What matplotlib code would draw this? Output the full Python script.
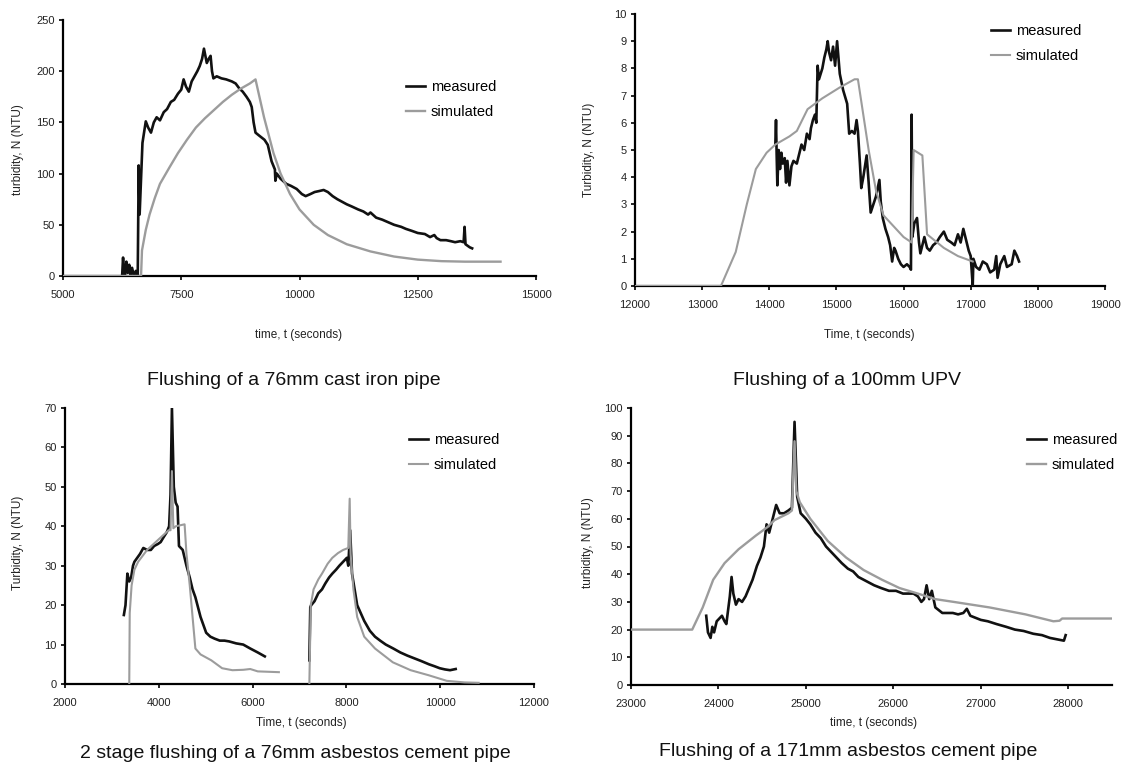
import matplotlib
matplotlib.use("Agg")
import matplotlib.pyplot as plt

plt.rcParams['font.family'] = ['Liberation Sans', 'DejaVu Sans']

# ---- panel 1: 76mm cast iron pipe ----
p1_meas_t = [6250, 6270, 6290, 6310, 6340, 6370, 6400, 6430, 6460, 6500, 6540, 6580, 6600, 6620,
             6680, 6750, 6800, 6860, 6920, 6980, 7050, 7130, 7200, 7280, 7350, 7430, 7500, 7550,
             7600, 7660, 7720, 7780, 7840, 7890, 7940, 7980, 8010, 8040, 8080, 8120, 8150, 8180,
             8250, 8350, 8450, 8570, 8650, 8730, 8800, 8880, 8950, 8990, 9030, 9070, 9150, 9260,
             9330, 9410, 9480, 9490, 9520, 9600, 9720, 9820, 9940, 10050, 10130, 10230, 10320, 10420,
             10510, 10600, 10700, 10800, 10920, 11000, 11100, 11240, 11350, 11450, 11500, 11620,
             11750, 11900, 12000, 12150, 12250, 12380, 12500, 12650, 12760, 12850, 12900, 12980,
             13100, 13200, 13290, 13400, 13470, 13490, 13510, 13540, 13600, 13650]
p1_meas_v = [0, 18, 2, 0, 14, 3, 11, 0, 8, 0, 5, 0, 108, 60,
             130, 151, 145, 140, 150, 155, 152, 160, 163, 170, 172, 178, 182, 192,
             185, 180, 190, 195, 200, 205, 212, 222, 215, 208, 212, 215, 200, 193,
             195, 193, 192, 190, 188, 183, 180, 175, 170, 165, 150, 140, 137, 133,
             128, 112, 104, 93, 100, 95, 90, 88, 85, 80, 78, 80, 82, 83,
             84, 82, 78, 75, 72, 70, 68, 65, 63, 60, 62, 57,
             55, 52, 50, 48, 46, 44, 42, 41, 38, 40, 37, 35,
             35, 34, 33, 34, 33, 48, 31, 30, 28, 27]
p1_sim_t = [5000, 6650, 6670, 6750, 6830, 6940, 7050, 7250, 7430, 7620, 7810, 8000, 8190, 8380,
            8570, 8760, 8950, 9070, 9250, 9450, 9600, 9800, 10000, 10300, 10600, 11000, 11500,
            12000, 12500, 13000, 13500, 14250]
p1_sim_v = [0, 0, 25, 45, 60, 76, 90, 106, 120, 133, 145, 154, 162, 170,
            177, 183, 188, 192, 155, 120, 100, 80, 65, 50, 40, 31, 24,
            19, 16, 14.5, 14, 14]

# ---- panel 2: 100mm UPV ----
p2_meas_t = [14090, 14100, 14110, 14120, 14140, 14160, 14180, 14200, 14230, 14250, 14270, 14300,
             14330, 14360, 14410, 14450, 14480, 14520, 14560, 14600, 14620, 14650, 14680, 14700,
             14720, 14740, 14790, 14820, 14850, 14870, 14890, 14920, 14950, 14980, 15010, 15030,
             15050, 15100, 15160, 15190, 15230, 15270, 15300, 15320, 15350, 15370, 15400, 15450,
             15480, 15510, 15550, 15590, 15640, 15660, 15690, 15730, 15770, 15800, 15830, 15860,
             15880, 15920, 15960, 16000, 16050, 16090, 16110, 16120, 16130, 16160, 16200, 16230,
             16250, 16280, 16310, 16350, 16390, 16440, 16490, 16540, 16600, 16650, 16710, 16760,
             16810, 16850, 16890, 16930, 16970, 17000, 17030, 17040, 17080, 17130, 17180, 17240,
             17290, 17350, 17380, 17400, 17440, 17500, 17540, 17610, 17650, 17690, 17720]
p2_meas_v = [5.2, 6.1, 4.8, 3.7, 5.0, 4.3, 4.9, 4.5, 4.7, 3.8, 4.6, 3.7,
             4.4, 4.6, 4.5, 4.9, 5.2, 5.0, 5.6, 5.4, 5.8, 6.1, 6.3, 6.0,
             8.1, 7.6, 8.0, 8.4, 8.7, 9.0, 8.6, 8.3, 8.8, 8.1, 9.0, 8.4,
             7.8, 7.2, 6.7, 5.6, 5.7, 5.6, 6.1, 5.7, 4.5, 3.6, 4.0, 4.8,
             3.8, 2.7, 3.0, 3.3, 3.9, 3.1, 2.5, 2.1, 1.8, 1.5, 0.9, 1.4,
             1.3, 1.0, 0.8, 0.7, 0.8, 0.7, 0.6, 6.3, 1.8, 2.3, 2.5, 1.6,
             1.2, 1.5, 1.8, 1.4, 1.3, 1.5, 1.6, 1.8, 2.0, 1.7, 1.6, 1.5,
             1.9, 1.6, 2.1, 1.7, 1.3, 1.1, 0.0, 1.0, 0.7, 0.6, 0.9, 0.8,
             0.5, 0.6, 1.1, 0.3, 0.8, 1.1, 0.7, 0.8, 1.3, 1.1, 0.9]
p2_sim_t = [12000, 13280, 13500, 13665, 13800, 13960, 14090, 14300, 14410, 14570, 14790, 15050,
            15270, 15320, 15480, 15590, 15700, 15850, 16000, 16120, 16150, 16280, 16350, 16600,
            16810, 17030]
p2_sim_v = [0, 0, 1.25, 3.0, 4.3, 4.9, 5.2, 5.5, 5.7, 6.5, 6.9, 7.3,
            7.6, 7.6, 5.0, 3.5, 2.6, 2.2, 1.8, 1.6, 5.0, 4.8, 1.9, 1.4,
            1.1, 0.9]

# ---- panel 3: 2 stage, 76mm asbestos cement ----
p3_meas1_t = [3255, 3290, 3330, 3370, 3410, 3450, 3480, 3540, 3600, 3670, 3750, 3830, 3900, 3980,
              4040, 4090, 4170, 4220, 4250, 4280, 4320, 4360, 4400, 4430, 4470, 4510, 4590, 4660,
              4720, 4780, 4890, 5010, 5100, 5190, 5300, 5400, 5500, 5650, 5800, 5950, 6110, 6260]
p3_meas1_v = [17.5, 20, 28, 26, 27, 30, 31, 32, 33, 34.5, 34, 34, 35, 35.5,
              36, 37, 38.5, 40, 48, 70, 50, 46, 45, 35, 34.5, 34, 30, 27,
              24, 22, 17, 13, 12, 11.5, 11, 11, 10.8, 10.3, 10, 9, 8, 7]
p3_sim1_t = [3370, 3380, 3420, 3480, 3560, 3750, 3980, 4210, 4250, 4280, 4310, 4360, 4550, 4590,
             4660, 4780, 4890, 5120, 5350, 5570, 5800, 5950, 6110, 6560]
p3_sim1_v = [0, 18, 25, 29, 31, 34, 36.5, 39, 39, 54, 39.5, 40, 40.5, 33,
             25, 9, 7.5, 6, 4, 3.5, 3.6, 3.8, 3.2, 3.0]
p3_meas2_t = [7210, 7230, 7250, 7320, 7400, 7480, 7550, 7630, 7700, 7780, 7850, 7930, 8010, 8040,
              8080, 8120, 8230, 8380, 8500, 8610, 8720, 8840, 9000, 9150, 9300, 9450, 9600, 9760,
              9880, 9990, 10100, 10210, 10330]
p3_meas2_v = [6, 19.5, 20, 21, 23, 24, 25.5, 27, 28, 29, 30, 31, 32, 30,
              39, 28, 20, 16, 13.5, 12, 11, 10, 9, 8, 7.2, 6.5, 5.8, 5,
              4.5, 4, 3.7, 3.5, 3.8]
p3_sim2_t = [7210, 7240, 7300, 7400, 7480, 7600, 7700, 7820, 7930, 8040, 8070, 8090, 8150, 8230,
             8380, 8610, 8990, 9370, 9760, 10140, 10520, 10820]
p3_sim2_v = [0, 20, 24, 26.5, 28, 30.5, 32, 33.2, 34, 34.5, 47, 33, 24, 17,
             12, 9, 5.5, 3.5, 2.2, 0.8, 0.4, 0.3]

# ---- panel 4: 171mm asbestos cement ----
p4_meas_t = [23860, 23880, 23910, 23930, 23950, 23980, 24010, 24040, 24070, 24090, 24130, 24150,
             24170, 24200, 24230, 24270, 24310, 24350, 24390, 24440, 24480, 24520, 24550, 24580,
             24620, 24660, 24700, 24750, 24800, 24840, 24870, 24900, 24940, 25000, 25050, 25110,
             25170, 25230, 25290, 25350, 25410, 25480, 25540, 25600, 25660, 25720, 25780, 25860,
             25950, 26030, 26110, 26170, 26230, 26280, 26320, 26350, 26380, 26410, 26440, 26480,
             26560, 26620, 26680, 26740, 26800, 26840, 26880, 26920, 27000, 27080, 27180, 27290,
             27390, 27490, 27600, 27700, 27790, 27870, 27950, 27970]
p4_meas_v = [25, 19, 17, 21, 19, 23, 24, 25, 23, 22, 32, 39,
             33, 29, 31, 30, 32, 35, 38, 43, 46, 50, 58, 55,
             60, 65, 62, 62, 63, 64, 95, 68, 62, 60, 58, 55,
             53, 50, 48, 46, 44, 42, 41, 39, 38, 37, 36, 35,
             34, 34, 33, 33, 33, 32, 30, 31, 36, 31, 34, 28,
             26, 26, 26, 25.5, 26, 27.5, 25, 24.5, 23.5, 23, 22, 21,
             20, 19.5, 18.5, 18, 17, 16.5, 16, 18]
p4_sim_t = [23000, 23700, 23820, 23940, 24070, 24230, 24430, 24560, 24640, 24800, 24840, 24870,
            24890, 24930, 25050, 25250, 25460, 25660, 25870, 26070, 26280, 26480, 26690, 27100,
            27510, 27830, 27900, 27930, 28500]
p4_sim_v = [20, 20, 28, 38, 44, 49, 54, 57, 59.5, 62, 63, 88,
            70, 66, 60, 52, 46, 41.5, 38, 35, 33, 31, 30, 28,
            25.5, 23, 23.2, 24, 24]

W, H = 1122, 764
fig = plt.figure(figsize=(W / 100, H / 100), dpi=100)


def px_axes(l, t, r, b):
    return fig.add_axes([l / W, 1 - b / H, (r - l) / W, (b - t) / H])


def style(ax):
    for s in ['top', 'right']:
        ax.spines[s].set_visible(False)
    for s in ['left', 'bottom']:
        ax.spines[s].set_linewidth(1.6)
        ax.spines[s].set_zorder(1)
    ax.tick_params(direction='out', length=3, width=1.2, labelsize=8,
                   labelcolor='#222222', pad=7)
    ax.tick_params(axis='y', pad=3)


def legend(ax, x, y):
    ax.legend(loc='upper left', bbox_to_anchor=(x / W, 1 - y / H),
              bbox_transform=fig.transFigure, frameon=False, fontsize=10.5,
              handlelength=1.3, handletextpad=0.4, labelspacing=0.75,
              borderpad=0, borderaxespad=0)


black = '#111111'
grey = '#9c9c9c'

# panel 1
ax1 = px_axes(63, 20, 536, 276)
ax1.plot(p1_meas_t, p1_meas_v, color=black, lw=1.9, label='measured', zorder=3)
ax1.plot(p1_sim_t, p1_sim_v, color=grey, lw=1.7, label='simulated', zorder=4)
ax1.set_xlim(5000, 15000)
ax1.set_ylim(0, 250)
ax1.set_xticks([5000, 7500, 10000, 12500, 15000])
ax1.set_yticks([0, 50, 100, 150, 200, 250])
style(ax1)
legend(ax1, 406, 80)

# panel 2
ax2 = px_axes(635, 14, 1105, 286)
ax2.plot(p2_meas_t, p2_meas_v, color=black, lw=1.9, label='measured', zorder=3)
ax2.plot(p2_sim_t, p2_sim_v, color=grey, lw=1.5, label='simulated', zorder=4)
ax2.set_xlim(12000, 19000)
ax2.set_ylim(0, 10)
ax2.set_xticks(range(12000, 19001, 1000))
ax2.set_yticks(range(0, 11))
style(ax2)
legend(ax2, 991, 24)

# panel 3
ax3 = px_axes(65, 408, 534, 684)
ax3.plot(p3_meas1_t, p3_meas1_v, color=black, lw=1.9, label='measured', zorder=3)
ax3.plot(p3_sim1_t, p3_sim1_v, color=grey, lw=1.5, label='simulated', zorder=4)
ax3.plot(p3_meas2_t, p3_meas2_v, color=black, lw=1.9, zorder=3)
ax3.plot(p3_sim2_t, p3_sim2_v, color=grey, lw=1.5, zorder=4)
ax3.set_xlim(2000, 12000)
ax3.set_ylim(0, 70)
ax3.set_xticks(range(2000, 12001, 2000))
ax3.set_yticks(range(0, 71, 10))
style(ax3)
legend(ax3, 409, 433)

# panel 4
ax4 = px_axes(631, 408, 1112, 685)
ax4.plot(p4_meas_t, p4_meas_v, color=black, lw=1.9, label='measured', zorder=3)
ax4.plot(p4_sim_t, p4_sim_v, color=grey, lw=1.7, label='simulated', zorder=4)
ax4.set_xlim(23000, 28500)
ax4.set_ylim(0, 100)
ax4.set_xticks(range(23000, 28001, 1000))
ax4.set_yticks(range(0, 101, 10))
style(ax4)
legend(ax4, 1027, 433)

# axis labels and captions
lab = dict(fontsize=8.5, color='#222222', ha='center', va='center')
fig.text(18 / W, 1 - 150 / H, 'turbidity, N (NTU)', rotation=90, **lab)
fig.text(299 / W, 1 - 335 / H, 'time, t (seconds)', **lab)
fig.text(589 / W, 1 - 150 / H, 'Turbidity, N (NTU)', rotation=90, **lab)
fig.text(869 / W, 1 - 335 / H, 'Time, t (seconds)', **lab)
fig.text(18 / W, 1 - 543 / H, 'Turbidity, N (NTU)', rotation=90, **lab)
fig.text(301 / W, 1 - 723 / H, 'Time, t (seconds)', **lab)
fig.text(588 / W, 1 - 543 / H, 'turbidity, N (NTU)', rotation=90, **lab)
fig.text(874 / W, 1 - 723 / H, 'time, t (seconds)', **lab)

cap = dict(fontsize=14, color='#111111', ha='center', va='center')
fig.text(294 / W, 1 - 381 / H, 'Flushing of a 76mm cast iron pipe', **cap)
fig.text(847 / W, 1 - 381 / H, 'Flushing of a 100mm UPV', **cap)
fig.text(295 / W, 1 - 753 / H, '2 stage flushing of a 76mm asbestos cement pipe', **cap)
fig.text(848 / W, 1 - 751 / H, 'Flushing of a 171mm asbestos cement pipe', **cap)

fig.savefig('out.png', dpi=100)
